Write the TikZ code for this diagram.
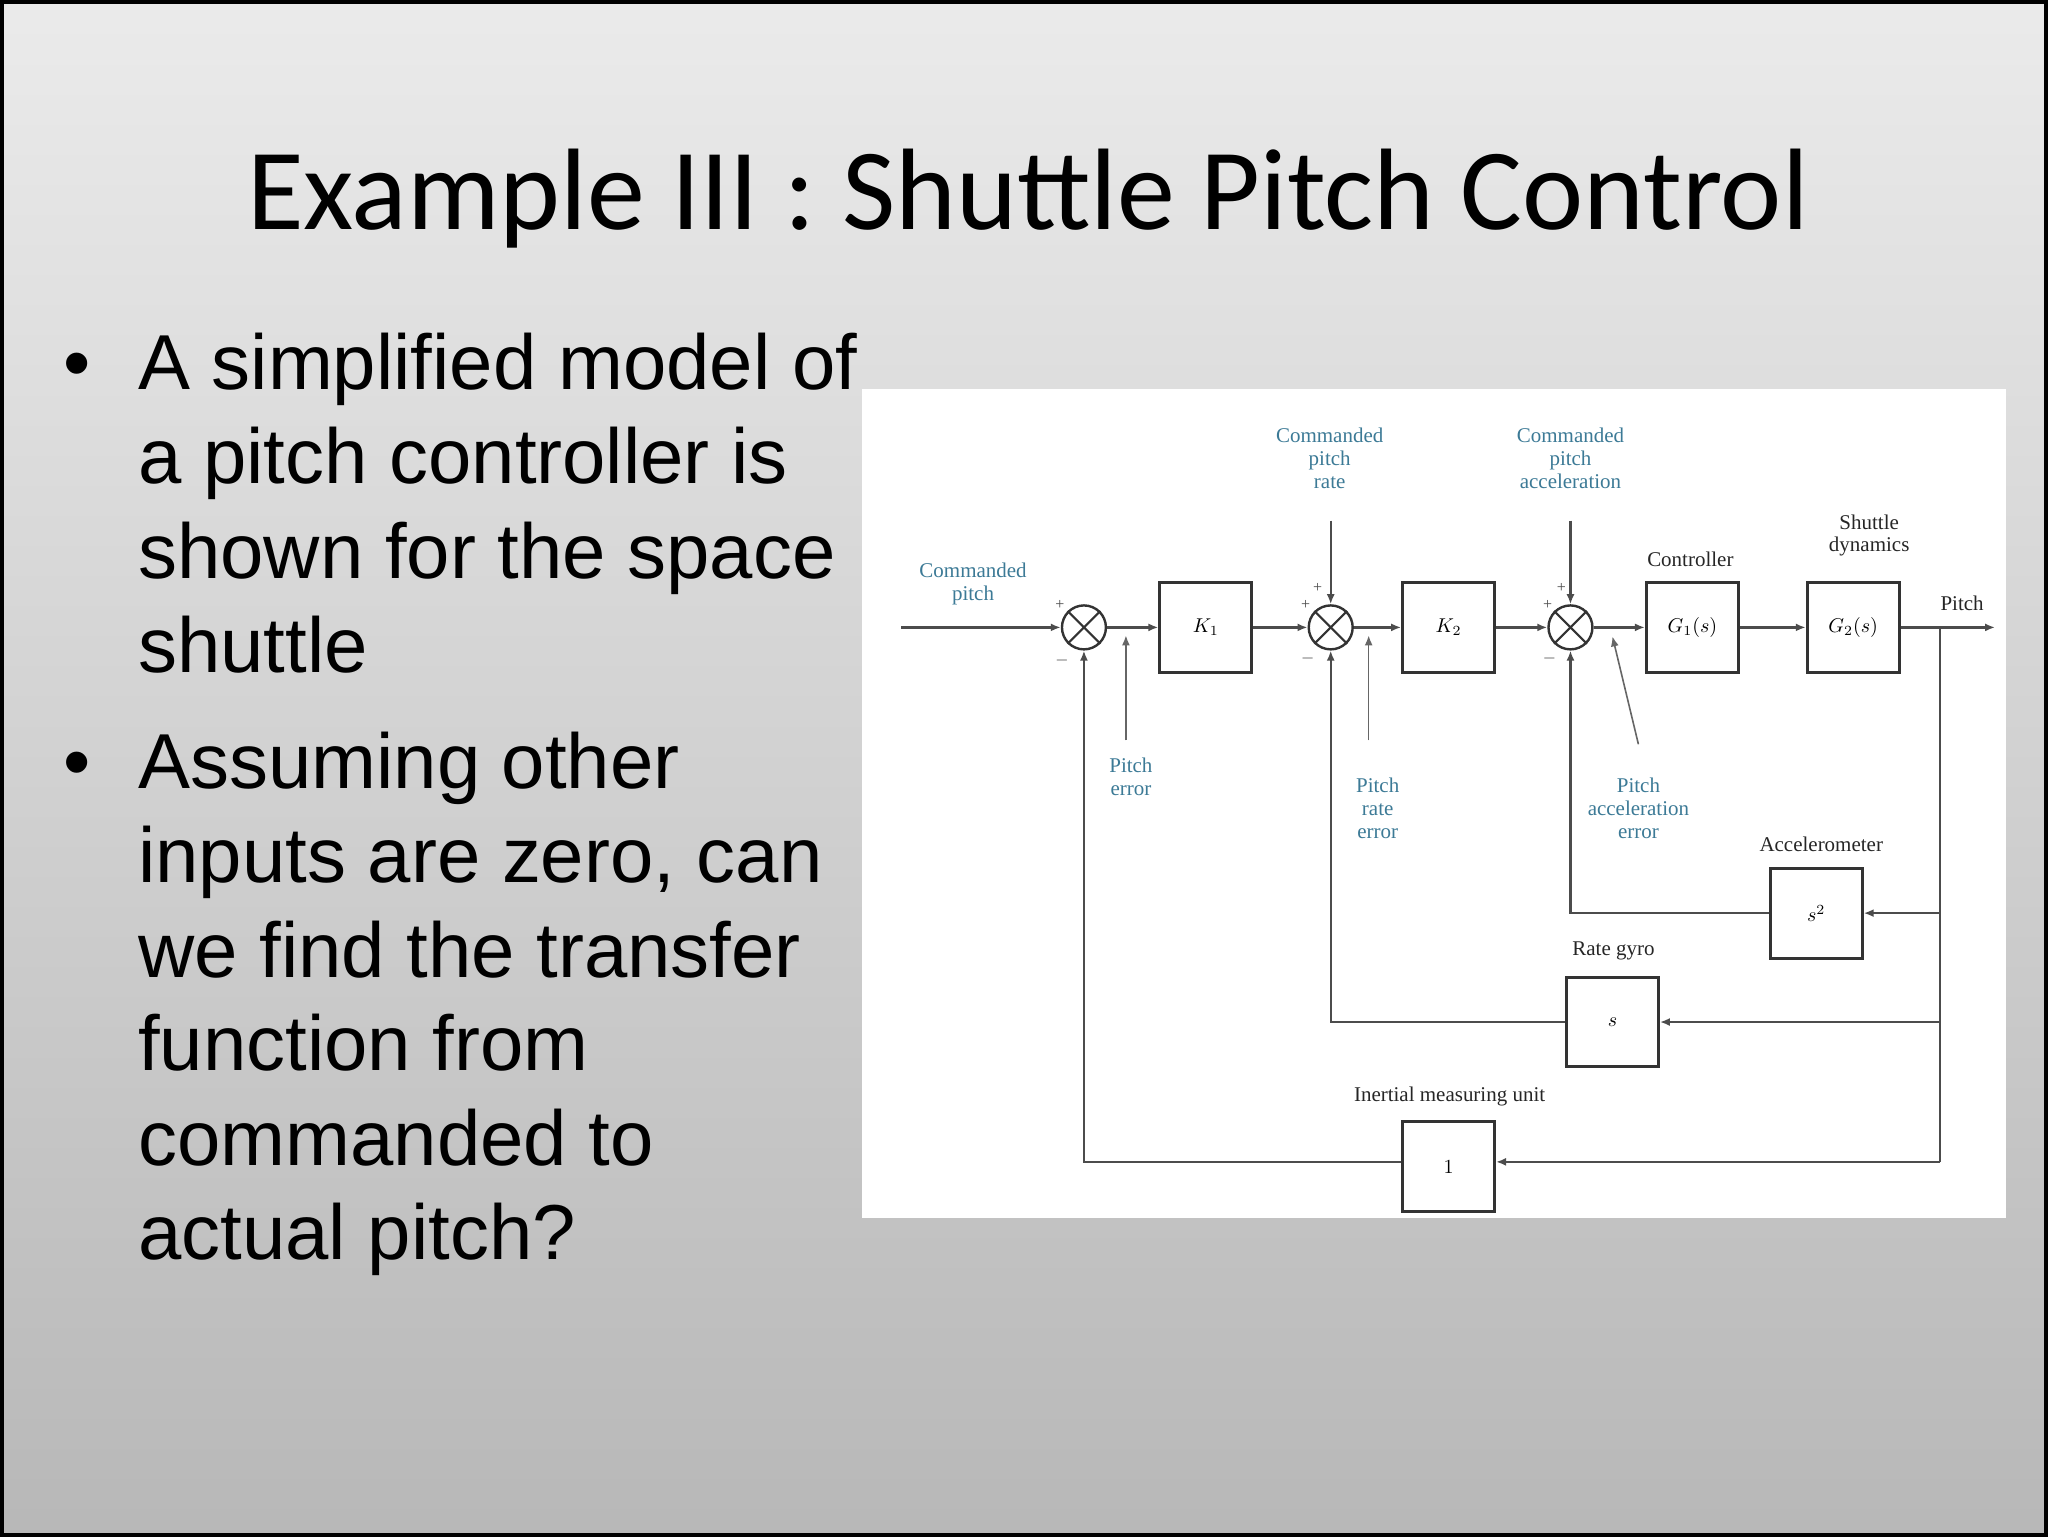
\documentclass[tikz,border=0pt]{standalone}
\usepackage{fontspec}
\setmainfont{Liberation Sans}
\newfontfamily\titlefont{Carlito}
\newfontfamily\diafont{Liberation Serif}
\usetikzlibrary{arrows.meta}
\definecolor{lbl}{HTML}{3C7A96}
\begin{document}
\begin{tikzpicture}[x=0.5pt,y=-0.5pt,
  blk/.style={draw=black!80,line width=1.5pt,minimum width=46pt,minimum height=45pt,inner sep=0pt,font=\diafont\fontsize{10}{12}\selectfont\itshape},
  sumj/.style={draw=black!80,line width=1.2pt,circle,minimum size=22pt,inner sep=0pt},
  wire/.style={draw=black!70,line width=1.1pt},
  arr/.style={wire,-{Latex[length=5pt,width=4pt]}},
  lab/.style={font=\diafont\fontsize{10.5}{11.5}\selectfont,text=lbl,align=center,inner sep=0pt},
  blab/.style={font=\diafont\fontsize{10.5}{11.5}\selectfont,text=black!85,align=center,inner sep=0pt},
  sgn/.style={font=\diafont\fontsize{8}{8}\selectfont,text=black!70,inner sep=0pt},
  bul/.style={anchor=base west,inner sep=0pt,font=\fontsize{39}{44}\selectfont}]
\shade[top color=black!8,bottom color=black!28] (0,0) rectangle (2048,1536);
\draw[line width=2pt] (1,1) rectangle (2047,1535);
\node[anchor=base,font=\titlefont\fontsize{58}{64}\selectfont] (title) at (1028,229) {Example III : Shuttle Pitch Control};
% bullets
\node[bul] (b1) at (62,389) {\textbullet};
\node[bul] (l1) at (137,389) {A simplified model of};
\node[bul] (l2) at (137,483) {a pitch controller is};
\node[bul] (l3) at (137,578) {shown for the space};
\node[bul] (l4) at (137,672) {shuttle};
\node[bul] (b2) at (62,788) {\textbullet};
\node[bul] (m1) at (137,788) {Assuming other};
\node[bul] (m2) at (137,882) {inputs are zero, can};
\node[bul] (m3) at (137,977) {we find the transfer};
\node[bul] (m4) at (137,1071) {function from};
\node[bul] (m5) at (137,1166) {commanded to};
\node[bul] (m6) at (137,1260) {actual pitch?};
% panel
\fill[white] (862,388) rectangle (2007,1218);
% sums
\foreach \n/\x in {s1/1084,s2/1331,s3/1571}{
  \node[sumj] (\n) at (\x,627) {};
  \draw[black!80,line width=1.1pt] (\n.north west)--(\n.south east) (\n.north east)--(\n.south west);
}
\node[blk] (k1) at (1206,627) {$K_1$};
\node[blk] (k2) at (1449,627) {$K_2$};
\node[blk] (g1) at (1693,627) {$G_1(s)$};
\node[blk] (g2) at (1854,627) {$G_2(s)$};
\node[blk] (acc) at (1817,913) {$s^2$};
\node[blk] (rg) at (1613,1022) {$s$};
\node[blk] (imu) at (1449,1167) {$1$};
\coordinate (in) at (901,627);
\coordinate (out) at (1996,627);
\coordinate (tap) at (1941,627);
\coordinate (tapa) at (1941,913);
\coordinate (tapr) at (1941,1022);
\coordinate (tapi) at (1941,1162);
% forward path
\draw[arr] (in) -- (s1);
\draw[arr] (s1) -- (k1);
\draw[arr] (k1) -- (s2);
\draw[arr] (s2) -- (k2);
\draw[arr] (k2) -- (s3);
\draw[arr] (s3) -- (g1);
\draw[arr] (g1) -- (g2);
\draw[arr] (g2) -- (out);
% feedback
\draw[wire] (tap) -- (tapi);
\draw[arr] (tapa) -- (acc);
\draw[arr] (acc.west) -| (s3.south);
\draw[arr] (tapr) -- (rg);
\draw[arr] (rg.west) -| (s2.south);
\draw[arr] (tapi) -- (imu.east |- tapi);
\draw[arr] (imu.west |- tapi) -| (s1.south);
% command inputs
\node[lab] (cpr) at (1330,458) {Commanded\\pitch\\rate};
\node[lab] (cpa) at (1571,458) {Commanded\\pitch\\acceleration};
\coordinate (cpr0) at (1331,520);
\coordinate (cpa0) at (1571,520);
\draw[arr] (cpr0) -- (s2.north);
\draw[arr] (cpa0) -- (s3.north);
\node[lab] (cp) at (973,584) {Commanded\\pitch};
\node[blab] (pitch) at (1963,603) {Pitch};
\node[blab] (ctl) at (1691,559) {Controller};
\node[blab] (sd) at (1870,535) {Shuttle\\dynamics};
\node[blab] (accl) at (1822,844) {Accelerometer};
\node[blab] (rgl) at (1614,951) {Rate gyro};
\node[blab] (imul) at (1450,1097) {Inertial measuring unit};
% error labels
\node[lab] (pe) at (1131,777) {Pitch\\error};
\node[lab] (pre) at (1378,808) {Pitch\\rate\\error};
\node[lab] (pae) at (1639,808) {Pitch\\acceleration\\error};
\coordinate (pe0) at (1126,740);
\coordinate (pe1) at (1126,635);
\coordinate (pre0) at (1369,740);
\coordinate (pre1) at (1369,635);
\coordinate (pae0) at (1639,744);
\coordinate (pae1) at (1613,636);
\draw[arr,black!60,line width=0.8pt] (pe0) -- (pe1);
\draw[arr,black!60,line width=0.8pt] (pre0) -- (pre1);
\draw[arr,black!60,line width=0.8pt] (pae0) -- (pae1);
% signs
\node[sgn] at (1060,605) {+};
\node[sgn] at (1062,660) {$-$};
\node[sgn] at (1306,605) {+};
\node[sgn] at (1318,588) {+};
\node[sgn] at (1308,658) {$-$};
\node[sgn] at (1548,605) {+};
\node[sgn] at (1562,588) {+};
\node[sgn] at (1550,658) {$-$};
\end{tikzpicture}
\end{document}
